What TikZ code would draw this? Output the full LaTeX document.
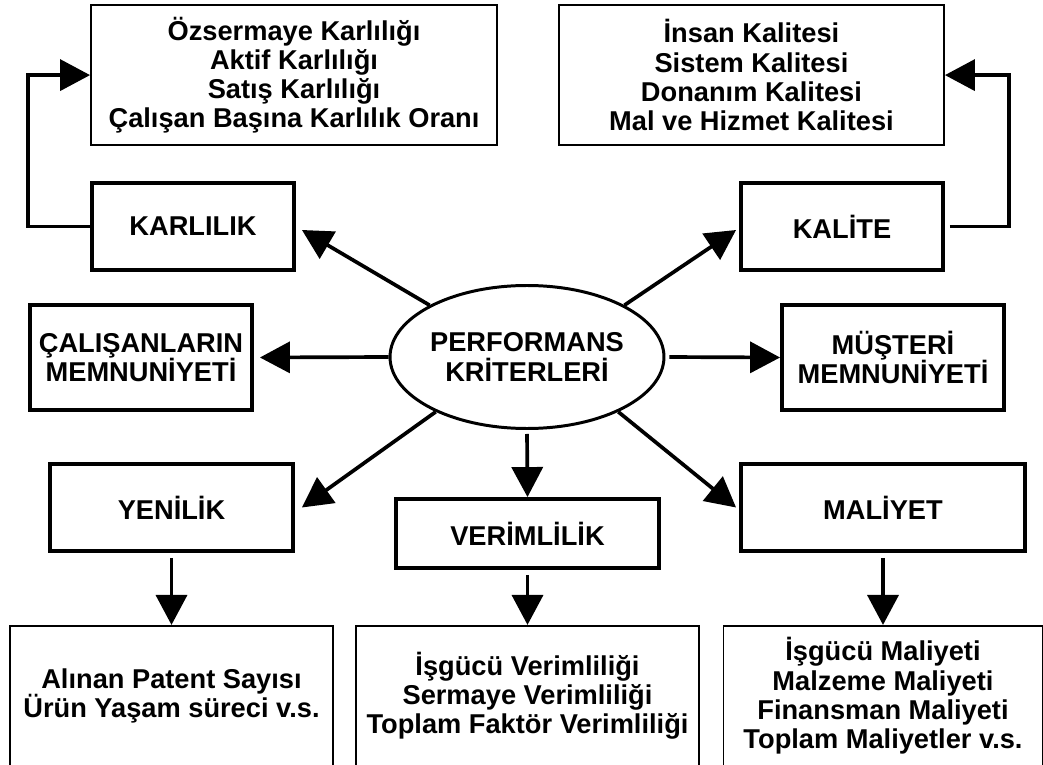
\documentclass[tikz,border=0pt]{standalone}
\usepackage{fontspec}
\setmainfont{Liberation Sans}
\usepackage{tikz}
\usetikzlibrary{arrows.meta, positioning, shapes.geometric}

\begin{document}
\begin{tikzpicture}[
    font=\fontsize{15.5}{16.6}\selectfont\bfseries,
    crit/.style={draw, ellipse, line width=1.7pt, minimum width=5.26cm, minimum height=2.86cm, inner sep=0pt, align=center},
    head/.style={draw, line width=2.2pt, minimum height=1.74cm, align=center},
    det/.style={draw, line width=1.1pt, minimum height=2.8cm, align=center},
    conn/.style={-{Triangle[length=6mm, width=6.2mm]}, line width=2.1pt}
]
    \path[use as bounding box, fill=white] (0,0) rectangle (20.86,-15.3);

    \node[crit] (crit) at (10.54,-7.14) {PERFORMANS\\KRİTERLERİ};

    \node[head, minimum width=4.04cm] (karl) at (3.86,-4.53) {KARLILIK};
    \node[head, minimum width=4.04cm] (kal) at (16.84,-4.53) {KALİTE};
    \node[head, minimum width=4.44cm, minimum height=2.1cm] (calisan) at (2.82,-7.15) {ÇALIŞANLARIN\\MEMNUNİYETİ};
    \node[head, minimum width=4.44cm, minimum height=2.1cm] (musteri) at (17.86,-7.15) {MÜŞTERİ\\MEMNUNİYETİ};
    \node[head, minimum width=4.86cm] (yenilik) at (3.43,-10.15) {YENİLİK};
    \node[head, minimum width=5.26cm, minimum height=1.38cm] (verim) at (10.55,-10.67) {VERİMLİLİK};
    \node[head, minimum width=5.68cm] (maliyet) at (17.66,-10.15) {MALİYET};

    \node[det, minimum width=8.12cm, anchor=south west] (karl_det) at ([yshift=0.7cm]karl.north west)
        {Özsermaye Karlılığı\\Aktif Karlılığı\\Satış Karlılığı\\Çalışan Başına Karlılık Oranı};
    \node[det, minimum width=7.7cm, anchor=south east] (kal_det) at ([yshift=0.7cm]kal.north east)
        {İnsan Kalitesi\\Sistem Kalitesi\\Donanım Kalitesi\\Mal ve Hizmet Kalitesi};
    \node[det, minimum width=6.46cm, below=1.44cm of yenilik] (yen_det)
        {Alınan Patent Sayısı\\Ürün Yaşam süreci v.s.};
    \node[det, minimum width=6.86cm, below=1.1cm of verim] (ver_det)
        {İşgücü Verimliliği\\Sermaye Verimliliği\\Toplam Faktör Verimliliği};
    \node[det, minimum width=6.38cm, below=1.44cm of maliyet] (mal_det)
        {İşgücü Maliyeti\\Malzeme Maliyeti\\Finansman Maliyeti\\Toplam Maliyetler v.s.};

    \draw[conn] (crit.152) -- ([xshift=1.2mm, yshift=-0.7mm]karl.east);
    \draw[conn] (crit.28) -- ([xshift=-0.6mm, yshift=-0.7mm]kal.west);
    \draw[conn] (crit.west) -- ([xshift=1.2mm]calisan.east);
    \draw[conn, shorten <=0.8mm] (crit.east) -- (musteri.west);
    \draw[conn] (crit.211) -- ([xshift=1.4mm]yenilik.east);
    \draw[conn, shorten <=0.8mm] (crit.south) -- (verim.north);
    \draw[conn] (crit.329) -- ([xshift=-0.6mm]maliyet.west);

    \draw[conn, shorten <=1mm] (yenilik.south) -- (yenilik.south |- yen_det.north);
    \draw[conn, shorten <=1mm] (verim.south) -- (verim.south |- ver_det.north);
    \draw[conn, shorten <=1mm] (maliyet.south) -- (maliyet.south |- mal_det.north);

    \draw[conn] (karl.west) -- ++(-1.24,0) |- (karl_det.west);
    \draw[conn, shorten <=1mm] (kal.east) -- ++(1.28,0) |- (kal_det.east);
\end{tikzpicture}
\end{document}
